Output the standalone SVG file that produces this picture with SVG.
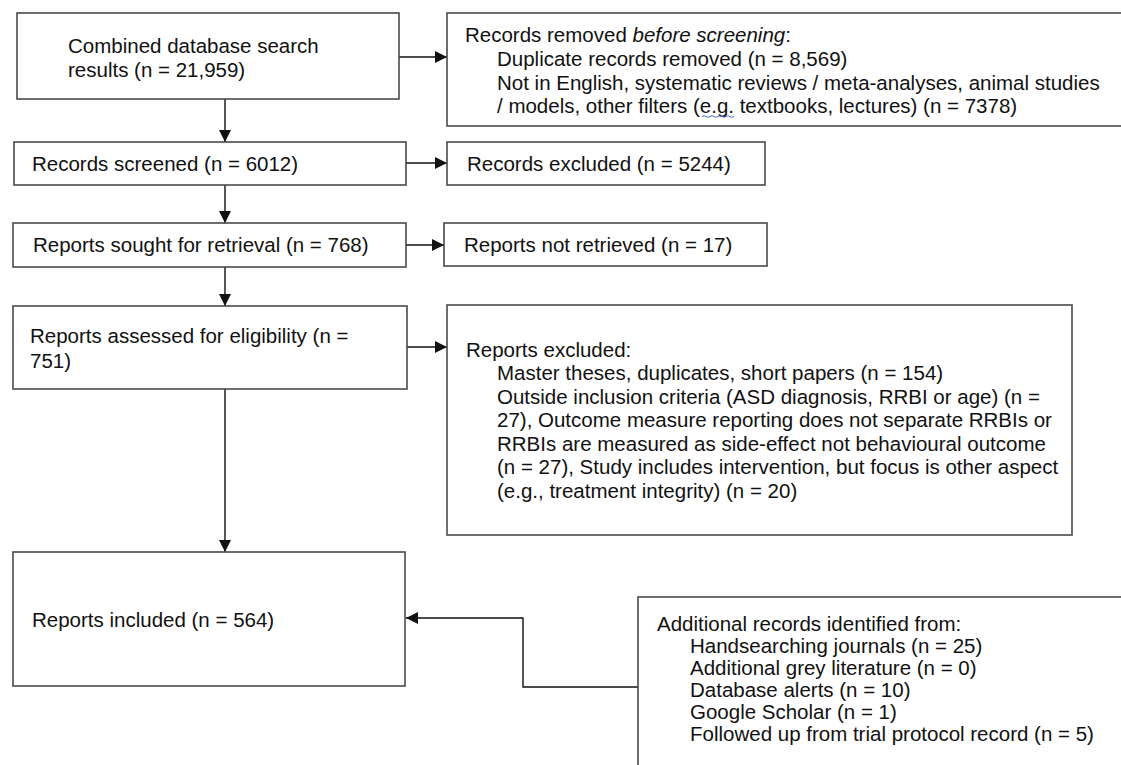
<svg xmlns="http://www.w3.org/2000/svg" width="1121" height="765" viewBox="0 0 1121 765">
  <style>
    .box { fill: #ffffff; stroke: #4a4a4a; stroke-width: 1.6; }
    .txt { font-family: "Liberation Sans", Arial, sans-serif; font-size: 20.5px; fill: #111111; }
    .link { fill: none; stroke: #111111; stroke-width: 1.4; }
  </style>
  <defs>
    <marker id="arrow" viewBox="0 0 12 12" refX="12" refY="6" markerWidth="12" markerHeight="12" markerUnits="userSpaceOnUse" orient="auto">
      <path d="M0,0 L12,6 L0,12 Z" fill="#111111"/>
    </marker>
  </defs>
  <rect width="1121" height="765" fill="#ffffff"/>

  <g id="connectors">
    <line class="link" x1="225" y1="99" x2="225" y2="142" marker-end="url(#arrow)"/>
    <line class="link" x1="225" y1="185" x2="225" y2="223" marker-end="url(#arrow)"/>
    <line class="link" x1="225" y1="267" x2="225" y2="306" marker-end="url(#arrow)"/>
    <line class="link" x1="225" y1="389" x2="225" y2="552" marker-end="url(#arrow)"/>
    <line class="link" x1="399" y1="57" x2="447" y2="57" marker-end="url(#arrow)"/>
    <line class="link" x1="406" y1="163" x2="447" y2="163" marker-end="url(#arrow)"/>
    <line class="link" x1="406" y1="245" x2="444" y2="245" marker-end="url(#arrow)"/>
    <line class="link" x1="407" y1="347" x2="447" y2="347" marker-end="url(#arrow)"/>
    <polyline class="link" points="638,687 523,687 523,618 406,618" marker-end="url(#arrow)"/>
  </g>

  <g id="identified">
    <rect class="box" x="17" y="13" width="382" height="86"/>
    <text class="txt" x="68" y="53">Combined database search</text>
    <text class="txt" x="68" y="77">results (n = 21,959)</text>
  </g>

  <g id="removed">
    <rect class="box" x="447" y="13" width="690" height="113"/>
    <text class="txt" x="465" y="42">Records removed <tspan font-style="italic">before screening</tspan>:</text>
    <text class="txt" x="497" y="66">Duplicate records removed (n = 8,569)</text>
    <text class="txt" x="497" y="90">Not in English, systematic reviews / meta-analyses, animal studies</text>
    <text class="txt" x="497" y="113">/ models, other filters (e.g. textbooks, lectures) (n = 7378)</text>
    <path d="M702,116.5 q2,-1.5 4,0 t4,0 t4,0 t4,0 t4,0 t4,0 t4,0 t4,0" fill="none" stroke="#4a6fd0" stroke-width="1"/>
  </g>

  <g id="screened">
    <rect class="box" x="14" y="142" width="392" height="43"/>
    <text class="txt" x="32" y="171">Records screened (n = 6012)</text>
  </g>

  <g id="records-excluded">
    <rect class="box" x="447" y="142" width="318" height="43"/>
    <text class="txt" x="467" y="171">Records excluded (n = 5244)</text>
  </g>

  <g id="sought">
    <rect class="box" x="13" y="223" width="393" height="44"/>
    <text class="txt" x="33" y="252">Reports sought for retrieval (n = 768)</text>
  </g>

  <g id="not-retrieved">
    <rect class="box" x="444" y="223" width="323" height="43"/>
    <text class="txt" x="464" y="252">Reports not retrieved (n = 17)</text>
  </g>

  <g id="assessed">
    <rect class="box" x="13" y="306" width="394" height="83"/>
    <text class="txt" x="30" y="343">Reports assessed for eligibility (n =</text>
    <text class="txt" x="30" y="368">751)</text>
  </g>

  <g id="reports-excluded">
    <rect class="box" x="447" y="305" width="625" height="230"/>
    <text class="txt" x="466" y="357">Reports excluded:</text>
    <text class="txt" x="497" y="380">Master theses, duplicates, short papers (n = 154)</text>
    <text class="txt" x="497" y="403.5">Outside inclusion criteria (ASD diagnosis, RRBI or age) (n =</text>
    <text class="txt" x="497" y="427">27), Outcome measure reporting does not separate RRBIs or</text>
    <text class="txt" x="497" y="450.5">RRBIs are measured as side-effect not behavioural outcome</text>
    <text class="txt" x="497" y="474">(n = 27), Study includes intervention, but focus is other aspect</text>
    <text class="txt" x="497" y="497.5">(e.g., treatment integrity) (n = 20)</text>
  </g>

  <g id="included">
    <rect class="box" x="13" y="552" width="392" height="134"/>
    <text class="txt" x="32" y="627">Reports included (n = 564)</text>
  </g>

  <g id="additional">
    <rect class="box" x="638" y="597" width="500" height="190"/>
    <text class="txt" x="657" y="631">Additional records identified from:</text>
    <text class="txt" x="690" y="653">Handsearching journals (n = 25)</text>
    <text class="txt" x="690" y="675">Additional grey literature (n = 0)</text>
    <text class="txt" x="690" y="697">Database alerts (n = 10)</text>
    <text class="txt" x="690" y="719">Google Scholar (n = 1)</text>
    <text class="txt" x="690" y="741">Followed up from trial protocol record (n = 5)</text>
  </g>
</svg>
